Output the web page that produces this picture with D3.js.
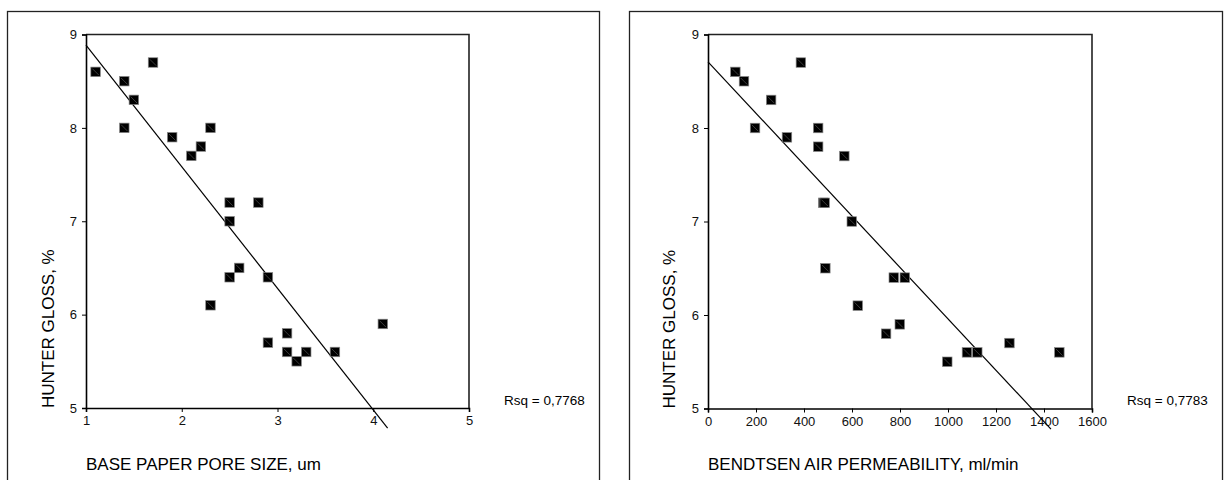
<!DOCTYPE html>
<html>
<head>
<meta charset="utf-8">
<script src="https://cdn.jsdelivr.net/npm/d3@7"></script>
<style>
  html, body { margin: 0; padding: 0; background: #fff; }
  svg { display: block; font-family: "Liberation Sans", Arial, sans-serif; }
</style>
</head>
<body>
<svg id="chart" width="1224" height="480"></svg>
<script>
// ---- Data ----
const poreSize = [1.1, 1.4, 1.5, 1.7, 1.4, 1.9, 2.1, 2.2, 2.3, 2.5, 2.5, 2.8, 2.3, 2.5, 2.6, 2.9, 2.9, 3.1, 3.1, 3.2, 3.3, 3.6, 4.1];
const glossA   = [8.6, 8.5, 8.3, 8.7, 8.0, 7.9, 7.7, 7.8, 8.0, 7.2, 7.0, 7.2, 6.1, 6.4, 6.5, 6.4, 5.7, 5.8, 5.6, 5.5, 5.6, 5.6, 5.9];

const permeability = [114, 150, 387, 263, 196, 329, 459, 459, 568, 480, 486, 599, 489, 774, 820, 624, 742, 799, 997, 1079, 1122, 1256, 1464];
const glossB       = [8.6, 8.5, 8.7, 8.3, 8.0, 7.9, 8.0, 7.8, 7.7, 7.2, 7.2, 7.0, 6.5, 6.4, 6.4, 6.1, 5.8, 5.9, 5.5, 5.6, 5.6, 5.7, 5.6];

const fitXA = [1, 4.15];
const fitYA = [8.885, 4.785];
const fitXB = [0, 1429];
const fitYB = [8.707, 4.78];

const xTicksA = [1, 2, 3, 4, 5];
const xTicksB = [0, 200, 400, 600, 800, 1000, 1200, 1400, 1600];
const yTicks  = [5, 6, 7, 8, 9];

const xTitleA = "BASE PAPER PORE SIZE, um";
const xTitleB = "BENDTSEN AIR PERMEABILITY, ml/min";
const yTitle  = "HUNTER GLOSS, %";
const rsqA = "Rsq = 0,7768";
const rsqB = "Rsq = 0,7783";

// ---- Drawing ----
const svg = d3.select("#chart");

function panel(cfg) {
  const g = svg.append("g");
  g.append("rect")
    .attr("x", cfg.frame[0] + 0.5).attr("y", 11.5)
    .attr("width", cfg.frame[1] - cfg.frame[0]).attr("height", 500)
    .attr("fill", "none").attr("stroke", "#222").attr("stroke-width", 1.3);

  const x = d3.scaleLinear().domain(cfg.xDomain).range([cfg.left, cfg.right]);
  const y = d3.scaleLinear().domain([5, 9]).range([cfg.bottom, cfg.top]);

  g.append("path")
    .attr("d", `M${cfg.left},${cfg.top}H${cfg.right}V${cfg.bottom}`)
    .attr("fill", "none").attr("stroke", "#222").attr("stroke-width", 1.6);

  const xAxis = g.append("g").attr("transform", `translate(0,${cfg.bottom})`)
    .call(d3.axisBottom(x).tickValues(cfg.xTicks).tickSize(4).tickPadding(4).tickFormat(d3.format("d")));
  const yAxis = g.append("g").attr("transform", `translate(${cfg.left},0)`)
    .call(d3.axisLeft(y).tickValues(yTicks).tickSize(4).tickPadding(5).tickFormat(d3.format("d")));
  [xAxis, yAxis].forEach(a => {
    a.select(".domain").attr("stroke", "#000").attr("stroke-width", 1.6);
    a.selectAll(".tick line").attr("stroke", "#000").attr("stroke-width", 1);
    a.selectAll(".tick text").attr("fill", "#111").style("font-size", "13px")
      .style("font-family", "'Liberation Sans', Arial, sans-serif");
  });

  const pts = cfg.fitX.map((v, i) => [x(v), y(cfg.fitY[i])]);
  g.append("path").attr("d", d3.line()(pts))
    .attr("fill", "none").attr("stroke", "#000").attr("stroke-width", 1.2);

  const s = 9.5;
  const m = g.selectAll("g.mk").data(cfg.xs.map((v, i) => [v, cfg.ys[i]]))
    .enter().append("g").attr("class", "mk")
    .attr("transform", d => `translate(${x(d[0])},${y(d[1])})`);
  m.append("rect").attr("x", -s / 2).attr("y", -s / 2).attr("width", s).attr("height", s)
    .attr("fill", "#000").attr("stroke", "#888").attr("stroke-width", 0.7);
  m.append("line").attr("x1", -s / 2 + 1.5).attr("y1", -s / 2 + 1.5).attr("x2", s / 2 - 1.5).attr("y2", s / 2 - 1.5)
    .attr("stroke", "#666").attr("stroke-width", 0.6);

  g.append("text").attr("x", cfg.left).attr("y", 470)
    .style("font-size", "17px").attr("fill", "#000").text(cfg.xTitle);
  g.append("text")
    .attr("transform", `translate(${cfg.yTitleX},${cfg.bottom}) rotate(-90)`)
    .style("font-size", "17px").attr("fill", "#000").text(yTitle);
  g.append("text").attr("x", cfg.rsqX).attr("y", 405)
    .style("font-size", "13.5px").attr("fill", "#000").text(cfg.rsq);
}

panel({
  frame: [7, 599], left: 86, right: 469, top: 34.5, bottom: 408,
  xDomain: [1, 5], xTicks: xTicksA, xs: poreSize, ys: glossA,
  fitX: fitXA, fitY: fitYA, xTitle: xTitleA, yTitleX: 54, rsq: rsqA, rsqX: 504
});
panel({
  frame: [629, 1222], left: 708, right: 1092, top: 34.5, bottom: 408.5,
  xDomain: [0, 1600], xTicks: xTicksB, xs: permeability, ys: glossB,
  fitX: fitXB, fitY: fitYB, xTitle: xTitleB, yTitleX: 675, rsq: rsqB, rsqX: 1127
});
</script>
</body>
</html>
